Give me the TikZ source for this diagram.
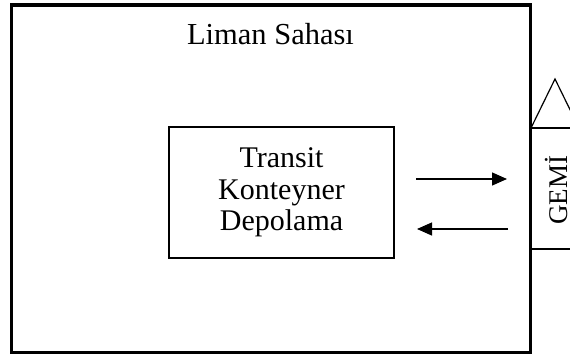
\documentclass[tikz,border=0pt]{standalone}
\usepackage{fontspec}
\setmainfont{Liberation Serif}
\usetikzlibrary{arrows.meta}
\tikzset{
  outer/.style={draw=black, line width=3.5pt},
  storebox/.style={draw=black, line width=1.3pt, minimum width=225pt, minimum height=131pt, inner sep=0pt, align=center, font=\fontsize{30}{31.5}\selectfont},
  shipline/.style={draw=black, line width=1.2pt},
  flow/.style={line width=1.3pt, -{Triangle[length=15pt,width=13pt]}},
  lbl/.style={inner sep=0pt, font=\fontsize{30.5}{32}\selectfont},
  shiplbl/.style={inner sep=0pt, font=\fontsize{27}{29}\selectfont}
}
\begin{document}
\begin{tikzpicture}[x=1pt,y=1pt]
\useasboundingbox (0,0) rectangle (570,-356);
\clip (0,0) rectangle (570,-356);
% ship
\draw[shipline] (530.5,-128) rectangle (620,-249);
\draw[shipline] (531,-128) -- (555,-79) -- (579,-128);
\node[shiplbl, rotate=90, anchor=base] (gemi) at (567,-190) {GEMİ};
% harbour area
\draw[outer] (11.5,-5) rectangle (530.5,-352.5);
\node[lbl, anchor=base] (liman) at (270.5,-44) {Liman Sahası};
% storage
\node[storebox] (depo) at (281.5,-192.5) {Transit\\Konteyner\\Depolama};
% flows
\coordinate (a1s) at (416,-179);
\coordinate (a1e) at (507,-179);
\coordinate (a2s) at (508,-229);
\coordinate (a2e) at (417,-229);
\draw[flow] (a1s) -- (a1e);
\draw[flow] (a2s) -- (a2e);
\end{tikzpicture}
\end{document}
